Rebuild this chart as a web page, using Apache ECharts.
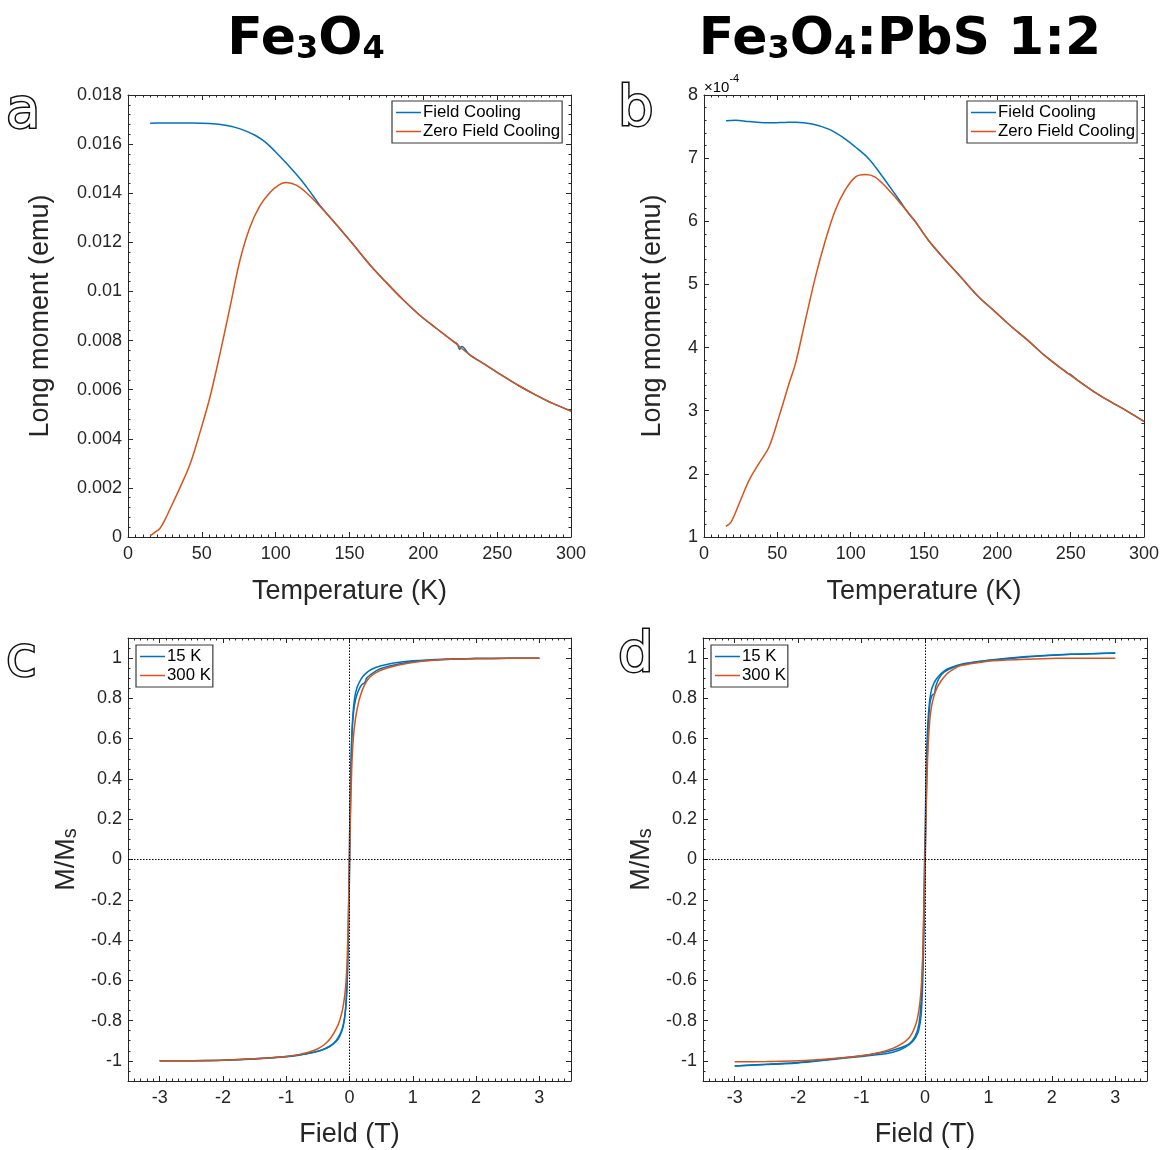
<!DOCTYPE html>
<html><head><meta charset="utf-8">
<script src="https://cdn.jsdelivr.net/npm/echarts@6/dist/echarts.min.js"></script>
<style>html,body{margin:0;padding:0;background:#fff}#c{width:1162px;height:1150px}</style>
</head><body><div id="c"></div>
<script>
// ---------- DATA ----------
// Panel a: Fe3O4, temperature (K) vs long moment (emu)
const fcA = [[15,0.01685],[20,0.01686],[30,0.01686],[44,0.01686],[55,0.01684],[67,0.01676],[75,0.01664],[80,0.01653],[86,0.01636],[91.5,0.01615],[96,0.01592],[100.5,0.01565],[107,0.01524],[116,0.01463],[121,0.01425],[125,0.01392],[130,0.01350],[141,0.01273],[152.4,0.01192],[163.6,0.0111],[175,0.01036],[186,0.00968],[197.4,0.00904],[208.7,0.0085],[220,0.00798],[223,0.00786],[224.5,0.00764],[226,0.00776],[231,0.00744],[242.5,0.007],[253.8,0.00656],[265,0.00615],[276.3,0.00578],[287.6,0.00544],[300,0.00513]];
const zfcA = [[15,0.00004],[18,0.00018],[21.6,0.00035],[25,0.0007],[28.4,0.00113],[35.2,0.00201],[42,0.00296],[48.7,0.00425],[55.4,0.00567],[62.2,0.00744],[69,0.00934],[75.7,0.01124],[82.5,0.0126],[89.3,0.01348],[96,0.01402],[102.8,0.01436],[107.3,0.01444],[114,0.01433],[120.8,0.01402],[129.8,0.01348],[141,0.01273],[152.4,0.01192],[163.6,0.0111],[175,0.01036],[186,0.00968],[197.4,0.00904],[208.7,0.0085],[220,0.00798],[231,0.00744],[242.5,0.007],[253.8,0.00656],[265,0.00615],[276.3,0.00578],[287.6,0.00544],[300,0.00513]];
// Panel b: Fe3O4:PbS 1:2, moment in units of 1e-4 emu
const fcB = [[15,7.594],[21.7,7.60],[30.8,7.58],[46.6,7.56],[55,7.565],[62.4,7.57],[73.8,7.54],[85,7.46],[94,7.34],[103,7.18],[112,7.0],[121,6.73],[130,6.44],[139,6.14],[143.9,6.0],[153,5.70],[164.4,5.39],[175.7,5.10],[187,4.81],[198.4,4.57],[209.7,4.33],[221,4.11],[232,3.88],[243.5,3.67],[246,3.63],[248,3.59],[250,3.57],[254.8,3.48],[266,3.30],[277.4,3.14],[288.8,2.99],[300,2.83]];
const zfcB = [[14.9,1.17],[18.3,1.23],[24,1.53],[30.8,1.90],[37.6,2.17],[44.4,2.43],[51.2,2.91],[58,3.43],[62.4,3.75],[69.2,4.44],[76,5.12],[82.8,5.70],[89.6,6.18],[96.4,6.50],[103.2,6.70],[110,6.74],[116.7,6.70],[125.8,6.50],[134.8,6.26],[143.9,6.0],[153,5.70],[164.4,5.39],[175.7,5.10],[187,4.81],[198.4,4.57],[209.7,4.33],[221,4.11],[232,3.88],[243.5,3.67],[254.8,3.48],[266,3.30],[277.4,3.14],[288.8,2.99],[300,2.83]];
// Panel c: Fe3O4 hysteresis, field (T) vs M/Ms
const c15Down = [[3,1.0],[2.5,0.999],[2,0.998],[1.5,0.995],[1.0,0.987],[0.7,0.976],[0.5,0.962],[0.35,0.945],[0.25,0.922],[0.18,0.895],[0.12,0.855],[0.08,0.8],[0.05,0.7],[0.03,0.56],[0.015,0.36],[0.0,0.1],[-0.01,-0.12],[-0.02,-0.36],[-0.035,-0.58],[-0.06,-0.74],[-0.1,-0.83],[-0.15,-0.875],[-0.2,-0.9],[-0.3,-0.925],[-0.45,-0.948],[-0.6,-0.96],[-0.8,-0.972],[-1.0,-0.98],[-1.5,-0.991],[-2,-0.997],[-2.5,-0.999],[-3,-1.0]];
const c15Up = [[-3,-1.0],[-2.5,-0.999],[-2,-0.997],[-1.5,-0.99],[-1.0,-0.978],[-0.7,-0.966],[-0.5,-0.952],[-0.35,-0.935],[-0.25,-0.913],[-0.18,-0.885],[-0.12,-0.845],[-0.08,-0.79],[-0.05,-0.69],[-0.03,-0.55],[-0.015,-0.34],[0.0,-0.08],[0.01,0.14],[0.02,0.38],[0.035,0.58],[0.06,0.72],[0.1,0.8],[0.15,0.845],[0.2,0.87],[0.24,0.878],[0.27,0.9],[0.32,0.915],[0.45,0.942],[0.6,0.958],[0.8,0.972],[1.0,0.982],[1.5,0.993],[2,0.998],[2.5,0.999],[3,1.0]];
const c300 = [[-3,-1.0],[-2.5,-0.999],[-2,-0.997],[-1.5,-0.99],[-1.0,-0.978],[-0.8,-0.969],[-0.6,-0.952],[-0.5,-0.94],[-0.4,-0.92],[-0.3,-0.888],[-0.2,-0.835],[-0.15,-0.795],[-0.1,-0.73],[-0.06,-0.63],[-0.035,-0.48],[-0.015,-0.25],[0.0,-0.02],[0.015,0.22],[0.035,0.45],[0.06,0.6],[0.09,0.69],[0.12,0.745],[0.16,0.8],[0.22,0.855],[0.32,0.905],[0.48,0.938],[0.64,0.955],[0.8,0.967],[1.0,0.978],[1.27,0.988],[1.6,0.994],[2.0,0.998],[2.5,0.999],[3,1.0]];
// Panel d: Fe3O4:PbS 1:2 hysteresis
const d15Down = [[3,1.025],[2.5,1.021],[2.1,1.017],[1.6,1.008],[1.0,0.99],[0.6,0.972],[0.4,0.952],[0.3,0.935],[0.2,0.905],[0.14,0.875],[0.1,0.84],[0.07,0.78],[0.04,0.65],[0.02,0.45],[0.005,0.2],[-0.01,-0.05],[-0.025,-0.35],[-0.045,-0.6],[-0.08,-0.78],[-0.12,-0.85],[-0.2,-0.9],[-0.3,-0.925],[-0.5,-0.946],[-0.7,-0.96],[-1,-0.974],[-1.5,-0.992],[-2,-1.008],[-2.5,-1.017],[-3,-1.025]];
const d15Up = [[-3,-1.025],[-2.5,-1.018],[-2,-1.01],[-1.5,-0.994],[-1,-0.978],[-0.6,-0.963],[-0.4,-0.946],[-0.25,-0.92],[-0.15,-0.885],[-0.1,-0.85],[-0.06,-0.77],[-0.035,-0.6],[-0.015,-0.35],[0,-0.08],[0.015,0.2],[0.03,0.45],[0.05,0.65],[0.08,0.78],[0.11,0.815],[0.13,0.82],[0.15,0.825],[0.17,0.86],[0.22,0.9],[0.3,0.93],[0.45,0.955],[0.7,0.975],[1,0.988],[1.6,1.006],[2.1,1.016],[2.5,1.021],[3,1.025]];
const d300 = [[-3,-1.005],[-2.5,-1.003],[-2,-1.0],[-1.5,-0.99],[-1,-0.975],[-0.7,-0.957],[-0.5,-0.937],[-0.35,-0.912],[-0.25,-0.885],[-0.18,-0.848],[-0.12,-0.79],[-0.08,-0.71],[-0.05,-0.59],[-0.03,-0.42],[-0.015,-0.22],[0,0.0],[0.015,0.2],[0.03,0.4],[0.05,0.57],[0.075,0.69],[0.1,0.756],[0.14,0.81],[0.18,0.846],[0.25,0.885],[0.34,0.92],[0.45,0.945],[0.55,0.962],[0.8,0.976],[1.08,0.987],[1.6,0.995],[2.1,0.999],[2.5,1.0],[3,1.0]];

const mtNames = ['Field Cooling', 'Zero Field Cooling'];
const mhNames = ['15 K', '300 K'];

// ---------- STYLE ----------
const AX = '#262626';
const BLUE = '#0072BD', RED = '#D95319';
const FONT = 'Liberation Sans';
const grids = [
  {left:128, top:95, width:443, height:442},
  {left:704, top:95, width:442, height:442},
  {left:128, top:638, width:443, height:443},
  {left:703, top:638, width:444, height:443}
];
function fmt(d){ return function(v){ return String(Number(v.toFixed(d))); }; }

const xAxes = [], yAxes = [];
function addAxes(g, xs, ys, xName, yName, yNameGap, xNameGap){
  const base = {
    type:'value', gridIndex:g, splitLine:{show:false},
    axisLine:{show:true, onZero:false, lineStyle:{color:AX, width:1}},
    axisTick:{show:true, inside:true, length:5, lineStyle:{color:AX, width:1}},
  };
  const xb = Object.assign({}, base, xs.scale, {
    minorTick:{show:true, splitNumber:xs.minor, length:2.5, lineStyle:{color:AX, width:1}}
  });
  const yb = Object.assign({}, base, ys.scale, {
    minorTick:{show:true, splitNumber:ys.minor, length:2.5, lineStyle:{color:AX, width:1}}
  });
  xAxes.push(Object.assign({}, xb, {position:'bottom',
    axisLabel:{color:AX, fontSize:18, fontFamily:FONT, margin:8, formatter:xs.fmt, showMinLabel:xs.showEnds, showMaxLabel:xs.showEnds},
    name:xName, nameLocation:'middle', nameGap:xNameGap, nameTextStyle:{color:AX, fontSize:27, fontFamily:FONT}}));
  xAxes.push(Object.assign({}, xb, {position:'top', axisLabel:{show:false}}));
  yAxes.push(Object.assign({}, yb, {position:'left',
    axisLabel:{color:AX, fontSize:18, fontFamily:FONT, margin:6, formatter:ys.fmt, showMinLabel:ys.showEnds, showMaxLabel:ys.showEnds},
    name:yName, nameLocation:'middle', nameGap:yNameGap, nameRotate:90,
    nameTextStyle:{color:AX, fontSize:27, fontFamily:FONT,
      rich:{m:{fontSize:27, fontFamily:FONT, color:AX, lineHeight:32, verticalAlign:'bottom'},
            s:{fontSize:20, fontFamily:FONT, color:AX, lineHeight:20, verticalAlign:'bottom'}}}}));
  yAxes.push(Object.assign({}, yb, {position:'right', axisLabel:{show:false}}));
}
const tempX = {scale:{min:0, max:300, interval:50}, minor:10, fmt:fmt(0), showEnds:true};
const fieldX = {scale:{min:-3.5, max:3.5, splitNumber:7}, minor:10, fmt:fmt(1), showEnds:false};
const mmsY = {scale:{min:-1.1, max:1.1, splitNumber:11}, minor:4, fmt:fmt(2), showEnds:false};
addAxes(0, tempX, {scale:{min:0, max:0.018, interval:0.002}, minor:5, fmt:fmt(3), showEnds:true}, 'Temperature (K)', 'Long moment (emu)', 74, 41);
addAxes(1, tempX, {scale:{min:1, max:8, interval:1}, minor:5, fmt:fmt(0), showEnds:true}, 'Temperature (K)', 'Long moment (emu)', 38, 41);
addAxes(2, fieldX, mmsY, 'Field (T)', '{m|M/M}{s|s}', 48, 40);
addAxes(3, fieldX, mmsY, 'Field (T)', '{m|M/M}{s|s}', 48, 40);

function line(name, data, axisIdx, color, smooth, extra){
  return Object.assign({type:'line', name:name, data:data, xAxisIndex:axisIdx*2, yAxisIndex:axisIdx*2,
    symbol:'none', showSymbol:false, smooth:smooth, lineStyle:{width:1.5, color:color}, itemStyle:{color:color},
    animation:false, z:3}, extra||{});
}
const zeroLines = {markLine:{silent:true, symbol:'none', animation:false, label:{show:false},
  lineStyle:{color:'#000', type:[1.5,1.5], width:1}, data:[{xAxis:0},{yAxis:0}]}};

const series = [
  line(mtNames[0], fcA, 0, BLUE, 0.35),
  line(mtNames[1], zfcA, 0, RED, 0.35),
  line(mtNames[0], fcB, 1, BLUE, 0.35),
  line(mtNames[1], zfcB, 1, RED, 0.35),
  line(mhNames[0], c15Down, 2, BLUE, 0.2, zeroLines),
  line(mhNames[0], c15Up, 2, BLUE, 0.2),
  line(mhNames[1], c300, 2, RED, 0.2),
  line(mhNames[0], d15Down, 3, BLUE, 0.2, zeroLines),
  line(mhNames[0], d15Up, 3, BLUE, 0.2),
  line(mhNames[1], d300, 3, RED, 0.2)
];

function legend(names, left, top){
  return {orient:'vertical', left:left, top:top, data:names, selectedMode:false,
    icon:'rect', itemWidth:25, itemHeight:1.5, itemGap:2, padding:[3,2,3,4],
    borderColor:'#3a3a3a', borderWidth:1.2, backgroundColor:'#fff',
    textStyle:{fontSize:16.8, color:'#000', fontFamily:FONT, padding:[0,0,0,-3]}};
}

const titleRich = {
  a:{fontSize:52, fontWeight:'bold', fontFamily:'DejaVu Sans', color:'#000', lineHeight:60, verticalAlign:'bottom'},
  s:{fontSize:32, fontWeight:'bold', fontFamily:'DejaVu Sans', color:'#000', lineHeight:34, verticalAlign:'bottom'}
};
function letter(ch, x, y){
  return {type:'text', x:x, y:y, style:{text:ch, fontSize:56, fontFamily:'DejaVu Sans', fill:'#fff', stroke:'#111', lineWidth:3, align:'left', verticalAlign:'middle'}};
}

const chart = echarts.init(document.getElementById('c'), null, {renderer:'canvas'});
chart.setOption({
  backgroundColor:'#fff', animation:false,
  grid:grids, xAxis:xAxes, yAxis:yAxes, series:series,
  legend:[legend(mtNames,392,101), legend(mtNames,967,101), legend(mhNames,136,645), legend(mhNames,711,645)],
  graphic:[
    {type:'text', x:306, y:36, style:{text:'{a|Fe}{s|3}{a|O}{s|4}', rich:titleRich, align:'center', verticalAlign:'middle'}},
    {type:'text', x:900, y:36, style:{text:'{a|Fe}{s|3}{a|O}{s|4}{a|:PbS 1:2}', rich:titleRich, align:'center', verticalAlign:'middle'}},
    letter('a', 6, 112), letter('b', 618, 110), letter('c', 6, 660), letter('d', 618, 656),
    {type:'text', x:704, y:84, style:{text:'{m|×10}{p|-4}', align:'left', verticalAlign:'middle',
      rich:{m:{fontSize:15, fontFamily:FONT, color:AX, lineHeight:18, verticalAlign:'bottom'},
            p:{fontSize:11, fontFamily:FONT, color:AX, lineHeight:22, verticalAlign:'top'}}}}
  ]
});
</script></body></html>
